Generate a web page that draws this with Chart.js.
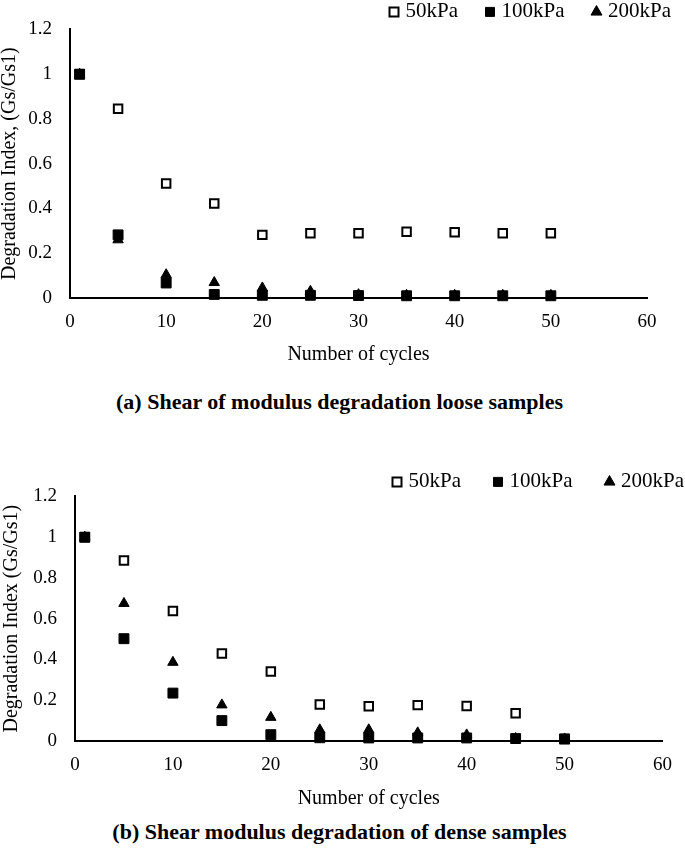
<!DOCTYPE html>
<html>
<head>
<meta charset="utf-8">
<script src="https://cdn.jsdelivr.net/npm/chart.js@4.4.1/dist/chart.umd.min.js"></script>
<style>
    html, body { margin: 0; padding: 0; background: #fff; overflow: hidden; }
    body { position: relative; width: 685px; height: 859px; font-family: 'Liberation Serif', serif; }
    canvas { position: absolute; left: 0; }
    #chartLoose { top: 0; }
    #chartDense { top: 467px; }
    .caption {
        position: absolute;
        left: -3px;
        width: 685px;
        text-align: center;
        font-weight: bold;
        font-size: 22px;
        line-height: 22px;
        color: #000;
    }
</style>
</head>
<body>
<canvas id="chartLoose" width="685" height="365"></canvas>
<div class="caption" style="top:391px">(a) Shear of modulus degradation loose samples</div>
<canvas id="chartDense" width="685" height="342"></canvas>
<div class="caption" style="top:821px">(b) Shear modulus degradation of dense samples</div>

<script>
/* ===============================
   DATA
================================= */
const cycles = [1, 5, 10, 15, 20, 25, 30, 35, 40, 45, 50];
const seriesLabels = ['50kPa', '100kPa', '200kPa'];

// (a) loose samples
const loose50 = [1, 0.846, 0.512, 0.422, 0.282, 0.289, 0.289, 0.296, 0.294, 0.289, 0.289];
const loose100 = [1, 0.282, 0.067, 0.016, 0.012, 0.012, 0.011, 0.01, 0.01, 0.01, 0.01];
const loose200 = [1, 0.26, 0.104, 0.069, 0.045, 0.03, 0.015, 0.012, 0.012, 0.012, 0.012];

// (b) dense samples
const dense50 = [1, 0.885, 0.638, 0.429, 0.341, 0.179, 0.171, 0.176, 0.172, 0.136, 0.01];
const dense100 = [1, 0.502, 0.235, 0.1, 0.031, 0.016, 0.015, 0.015, 0.015, 0.012, 0.01];
const dense200 = [1, 0.675, 0.386, 0.177, 0.116, 0.055, 0.055, 0.04, 0.03, 0.012, 0.01];

const xTicks = { min: 0, max: 60, step: 10 };
const yTicks = { min: 0, max: 1.2, step: 0.2 };

/* ===============================
   DEFAULTS
================================= */
Chart.defaults.font.family = "'Liberation Serif', serif";
Chart.defaults.color = '#000';

// marker look per series: open square, filled square, filled triangle
const markerStyles = [
    { pointStyle: 'rect', backgroundColor: '#fff', borderColor: '#000', borderWidth: 2, pointRadius: 6, order: 3 },
    { pointStyle: 'rect', backgroundColor: '#000', borderColor: '#000', borderWidth: 1, pointRadius: 7, order: 1 },
    { pointStyle: 'triangle', backgroundColor: '#000', borderColor: '#000', borderWidth: 1, pointRadius: 6, order: 2 }
];

/* ===============================
   LEGEND HEIGHT PLUGIN
   (keeps the legend row close to the plot)
================================= */
const legendHeight = {
    id: 'legendHeight',
    beforeLayout(chart, args, opts) {
        const legend = chart.legend;
        if (!legend || legend.$fixed) return;
        const fit = legend.fit;
        legend.fit = function () {
            fit.call(this);
            this.height = opts.height;
        };
        legend.$fixed = true;
    }
};

/* ===============================
   CHART BUILDER
================================= */
function buildChart(id, values, yTitle, box) {
    const datasets = values.map((vals, i) => ({
        label: seriesLabels[i],
        data: cycles.map((c, k) => ({ x: c, y: vals[k] })),
        showLine: false,
        clip: false,
        yAxisID: 'y',
        ...markerStyles[i]
    }));

    return new Chart(document.getElementById(id), {
        type: 'scatter',
        data: { datasets },
        options: {
            responsive: false,
            animation: false,
            events: [],
            layout: {
                padding: { top: -box.legendPad, right: box.padRight, left: 0, bottom: 0 }
            },
            plugins: {
                tooltip: { enabled: false },
                legendHeight: { height: box.legendH },
                legend: {
                    position: 'top',
                    align: 'end',
                    labels: {
                        usePointStyle: true,
                        boxWidth: 2,
                        boxHeight: 9,
                        padding: box.legendPad,
                        color: '#000',
                        font: { size: 21 },
                        sort: (a, b) => a.datasetIndex - b.datasetIndex
                    }
                }
            },
            scales: {
                x: {
                    type: 'linear',
                    min: xTicks.min,
                    max: xTicks.max,
                    ticks: { stepSize: xTicks.step, padding: 13, color: '#000', font: { size: 19 } },
                    grid: { display: false, drawTicks: false },
                    border: { display: true, color: '#000', width: 2 },
                    title: {
                        display: true,
                        text: 'Number of cycles',
                        color: '#000',
                        font: { size: 20, lineHeight: 1 },
                        padding: { top: 0, bottom: 0 }
                    },
                    afterFit: s => { s.height = box.xH; }
                },
                y: {
                    type: 'linear',
                    min: yTicks.min,
                    max: yTicks.max,
                    ticks: {
                        stepSize: yTicks.step,
                        padding: 18,
                        color: '#000',
                        font: { size: 19 },
                        callback: v => String(+v.toFixed(1))
                    },
                    grid: { display: false, drawTicks: false },
                    border: { display: true, color: '#000', width: 2 },
                    title: {
                        display: true,
                        text: yTitle,
                        color: '#000',
                        font: { size: 20, lineHeight: 1 },
                        padding: { top: box.yTitlePad, bottom: 0 }
                    },
                    afterFit: s => { s.width = box.yW; }
                },
                pad: {
                    type: 'linear',
                    position: 'right',
                    display: true,
                    ticks: { display: false },
                    grid: { display: false, drawTicks: false },
                    border: { display: false },
                    afterFit: s => { s.width = box.padW; }
                }
            }
        },
        plugins: [legendHeight]
    });
}

/* ===============================
   INIT
================================= */
buildChart('chartLoose', [loose50, loose100, loose200], 'Degradation Index, (Gs/Gs1)',
    { legendPad: 31, padRight: -17, legendH: 59, xH: 67, yW: 70, padW: 55, yTitlePad: 0 });

buildChart('chartDense', [dense50, dense100, dense200], 'Degradation Index (Gs/Gs1)',
    { legendPad: 36, padRight: -35, legendH: 61, xH: 68, yW: 75, padW: 45, yTitlePad: 2 });
</script>
</body>
</html>
